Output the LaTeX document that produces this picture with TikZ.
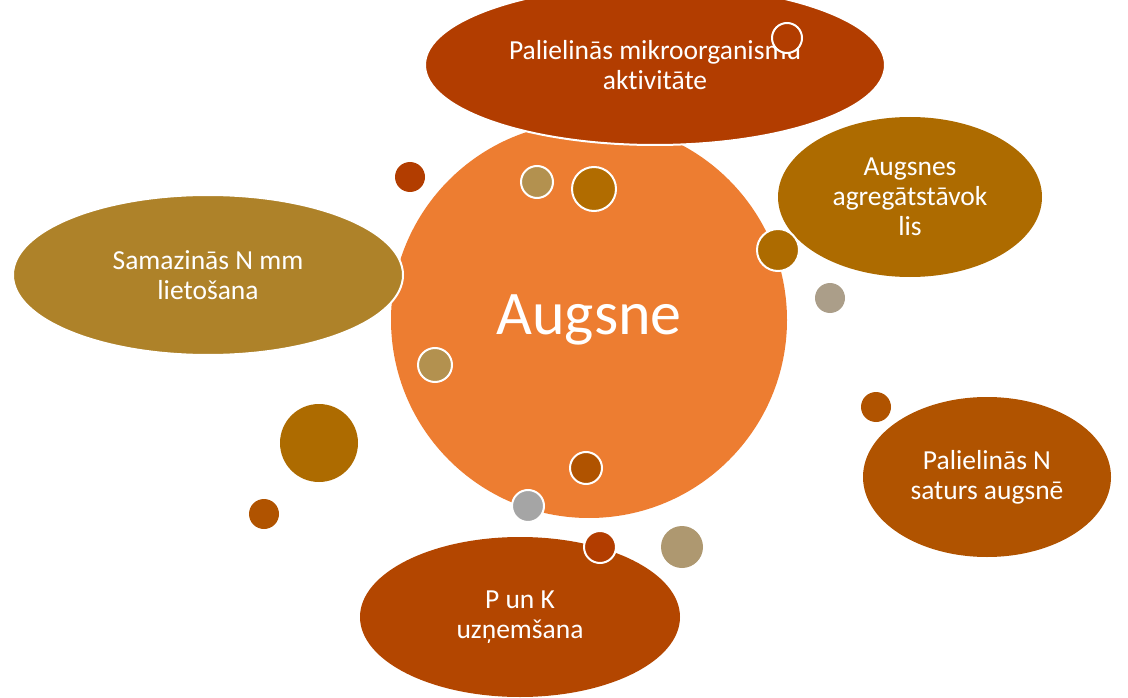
\documentclass[tikz,border=0pt]{standalone}
\usepackage{fontspec}
\setmainfont{Carlito}[Ligatures = NoCommon]
\usetikzlibrary{shapes.geometric}

\definecolor{soilorange}{HTML}{ED7D31}
\definecolor{rust}{HTML}{B23D00}
\definecolor{amber}{HTML}{AD6B00}
\definecolor{copper}{HTML}{B05300}
\definecolor{brick}{HTML}{B34600}
\definecolor{ochre}{HTML}{AE8229}
\definecolor{khaki}{HTML}{B3914F}
\definecolor{pebble}{HTML}{AB9E89}
\definecolor{sand}{HTML}{AE9870}
\definecolor{stone}{HTML}{A5A5A5}

\begin{document}
\begin{tikzpicture}[x = 1pt, y = -1pt,
		bubble/.style = {ellipse, inner sep = 0pt, text = white, align = center,
			font = \fontsize{27.5}{30}\selectfont},
		dot/.style = {circle, inner sep = 0pt},
		rim/.style = {draw = white, line width = 2pt}]
				\useasboundingbox (0, 0) rectangle (1128, 698);
				\clip (0, 0) rectangle (1128, 698);

				\node[dot, fill = soilorange, minimum size = 396pt,
					text = white, font = \fontsize{62}{72}\selectfont](augsne) at (589, 320) {Augsne};

				\node[bubble, rim, fill = ochre, minimum width = 390pt, minimum height = 160pt](lieto) at (208, 275) {Samazinās N mm\\lietošana};
				\node[bubble, rim, fill = rust, minimum width = 460pt, minimum height = 160pt](mikro) at (655, 65) {Palielinās mikroorganismu\\aktivitāte};
				\node[bubble, fill = amber, minimum width = 264pt, minimum height = 160pt](agreg) at (910, 197) {Augsnes\\agregātstāvok\\lis};
				\node[bubble, fill = copper, minimum width = 248pt, minimum height = 160pt](saturs) at (987, 477) {Palielinās N\\saturs augsnē};
				\node[bubble, fill = brick, minimum width = 320pt, minimum height = 160pt](pk) at (520, 617) {P un K\\uzņemšana};

				% bubbles
				\node[dot, rim, fill = rust, minimum size = 30pt](b1) at (787, 38) {};
				\node[dot, rim, fill = khaki, minimum size = 32pt](b2) at (537, 182) {};
				\node[dot, rim, fill = amber!95!orange, minimum size = 44pt](b3) at (594, 189) {};
				\node[dot, fill = rust, minimum size = 30pt](b4) at (410, 177) {};
				\node[dot, rim, fill = amber, minimum size = 42pt](b5) at (778, 250) {};
				\node[dot, fill = pebble, minimum size = 30pt](b6) at (830, 298) {};
				\node[dot, fill = copper, minimum size = 30pt](b7) at (876, 407) {};
				\node[dot, rim, fill = khaki, minimum size = 34pt](b8) at (435, 365) {};
				\node[dot, fill = amber, minimum size = 78pt](b9) at (319, 443) {};
				\node[dot, fill = copper, minimum size = 30pt](b10) at (264, 514) {};
				\node[dot, rim, fill = copper, minimum size = 32pt](b11) at (586, 468) {};
				\node[dot, rim, fill = stone, minimum size = 32pt](b12) at (528, 506) {};
				\node[dot, rim, fill = rust, minimum size = 32pt](b13) at (600, 547) {};
				\node[dot, fill = sand, minimum size = 42pt](b14) at (682, 547) {};
			\end{tikzpicture}
\end{document}
